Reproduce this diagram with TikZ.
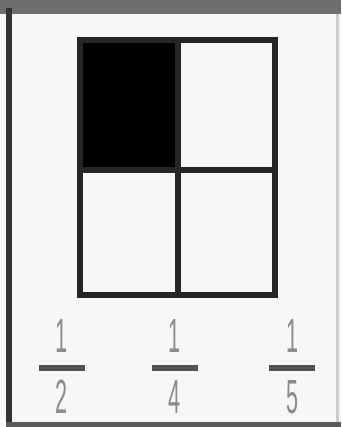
\documentclass[tikz,border=0pt]{standalone}
\usepackage{fontspec}
\usepackage{graphicx}
\setmainfont{Liberation Sans}
\begin{document}
\begin{tikzpicture}[x=1pt,y=-1pt,
  gridline/.style={line width=6pt,draw=black!85},
  fracbar/.style={line width=6pt,draw=black!68},
  digit/.style={text=black!45,font=\fontsize{48}{48}\selectfont,inner sep=0pt,anchor=center}]
\useasboundingbox (0,0) rectangle (341,427);
\fill[white!97!black] (0,0) rectangle (341,427);
% frame
\fill[black!57] (0,0) rectangle (341,14);
\fill[black!80] (6,8) rectangle (12,427);
\fill[black!65] (6,422) rectangle (341,427);
\fill[black!20] (336,14) rectangle (339,422);
% grid
\fill[black] (80,40) rectangle (178,170);
\draw[gridline] (80,40) rectangle (275,295);
\draw[gridline] (178,40) -- (178,295);
\draw[gridline] (80,170) -- (275,170);
% fractions
\foreach \n/\x/\d in {a/62/2,b/175/4,c/292/5}{
  \node[digit] (\n num) at (\x,336) {\scalebox{0.45}[1]{1}};
  \node[digit] (\n den) at (\x,397) {\scalebox{0.45}[1]{\d}};
  \coordinate (\n L) at (\x-23,368);
  \coordinate (\n R) at (\x+23,368);
  \draw[fracbar] (\n L) -- (\n R);
}
\end{tikzpicture}
\end{document}
